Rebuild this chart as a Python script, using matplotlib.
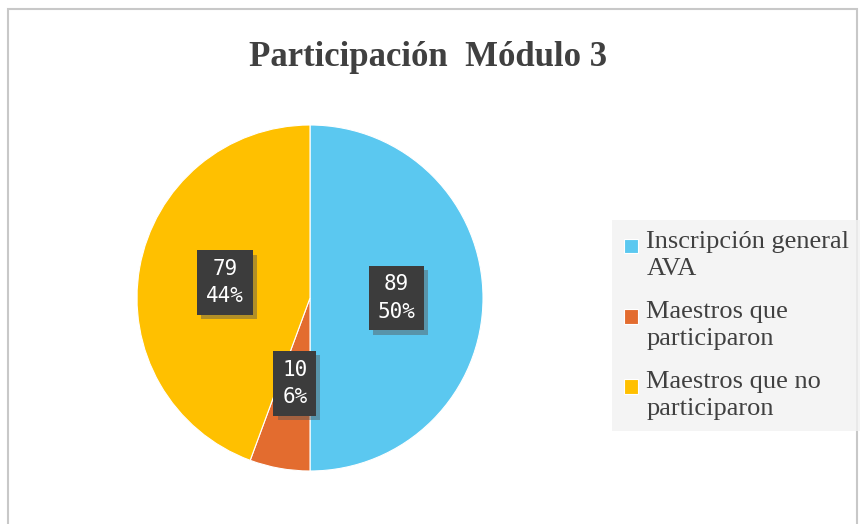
import matplotlib.pyplot as plt
import matplotlib.patheffects as pe
from matplotlib.patches import Rectangle
from matplotlib.legend_handler import HandlerPatch

# data
categories = ['Inscripción general\nAVA', 'Maestros que\nparticiparon', 'Maestros que no\nparticiparon']
values = [89, 10, 79]
colors = ['#5BC8F0', '#E36C2F', '#FFC000']
title = 'Participación  Módulo 3'

fig = plt.figure(figsize=(8.61, 5.24), dpi=100)
fig.patch.set_facecolor('white')

# gray frame around the chart area
fig.add_artist(Rectangle((8 / 861, -0.05), 849 / 861, 1 - 9 / 524 + 0.05,
                         transform=fig.transFigure, fill=False,
                         edgecolor='#C8C8C8', linewidth=1.5))

ax = fig.add_axes([137 / 861, 1 - 471 / 524, 346 / 861, 346 / 524])

total = sum(values)


def fmt(pct):
    n = int(round(pct * total / 100))
    return f'{n}\n{pct:.0f}%'


wedges, texts, autotexts = ax.pie(values, colors=colors, startangle=90, counterclock=False,
                                  autopct=fmt, pctdistance=0.5,
                                  wedgeprops=dict(edgecolor='white', linewidth=0.8))
for t in autotexts:
    t.set_color('white')
    t.set_family('DejaVu Sans Mono')
    t.set_fontsize(15)
    t.set_linespacing(1.45)
    t.set_bbox(dict(boxstyle='square,pad=0.42', facecolor='#3C3C3C', edgecolor='none'))
    t.get_bbox_patch().set_path_effects(
        [pe.withSimplePatchShadow(offset=(3, -3), shadow_rgbFace='#555555', alpha=0.45)])
ax.set_xlim(-1, 1)
ax.set_ylim(-1, 1)
ax.set_aspect('equal')

fig.text(428.5 / 861, 1 - 57 / 524, title, ha='center', va='center',
         family='Liberation Serif', fontweight='bold', fontsize=25, color='#404040')


# small square next to the first line of each label, like the original
def top_square(legend, orig_handle, xdescent, ydescent, width, height, fontsize):
    s = 0.55 * fontsize
    return Rectangle((-xdescent + 0.05 * fontsize, -ydescent + 0.3 * fontsize), s, s)


leg = fig.legend(wedges, categories, loc='upper left', bbox_to_anchor=(612 / 861, 1 - 220 / 524),
                 frameon=True, fancybox=False, prop=dict(family='Liberation Serif', size=19),
                 handlelength=0.45, handleheight=0.45, handletextpad=0.45, labelspacing=0.8,
                 borderpad=0.4, borderaxespad=0,
                 handler_map={w: HandlerPatch(patch_func=top_square) for w in wedges})
leg.get_frame().set_facecolor('#F2F2F2')
leg.get_frame().set_edgecolor('none')
for t in leg.get_texts():
    t.set_color('#404040')
    t.set_linespacing(1.3)

fig.savefig('out.png', dpi=100)
